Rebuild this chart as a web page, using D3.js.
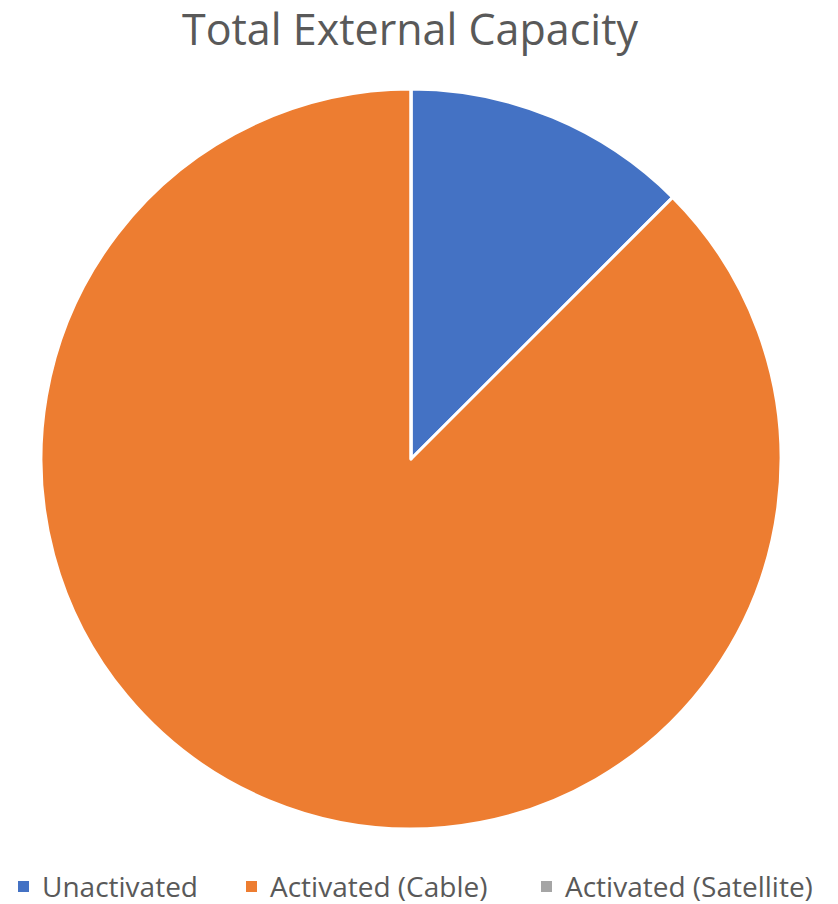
<!DOCTYPE html>
<html>
<head>
<meta charset="utf-8">
<script src="https://cdn.jsdelivr.net/npm/d3@7"></script>
<style>
  html, body { margin: 0; padding: 0; background: #fff; }
  svg { display: block; }
</style>
</head>
<body>
<svg id="chart" width="838" height="904"></svg>
<script>
// data
const categories = ["Unactivated", "Activated (Cable)", "Activated (Satellite)"];
const values = [12.5, 87.5, 0];
const colors = ["#4472C4", "#ED7D31", "#A5A5A5"];
const title = "Total External Capacity";

const width = 838, height = 904;
const cx = 411, cy = 459, radius = 370;

const svg = d3.select("#chart");
const font = "'Open Sans', 'Liberation Sans', sans-serif";

// title
svg.append("text")
    .attr("x", 410)
    .attr("y", 45)
    .attr("text-anchor", "middle")
    .attr("font-family", font)
    .attr("font-size", 43)
    .attr("fill", "#595959")
    .text(title);

const pie = d3.pie().sort(null).value(d => d);
const arc = d3.arc().innerRadius(0).outerRadius(radius);
const color = d3.scaleOrdinal().domain(categories).range(colors);

const g = svg.append("g").attr("transform", `translate(${cx},${cy})`);
g.selectAll("path")
    .data(pie(values))
    .join("path")
    .attr("d", arc)
    .attr("fill", (d, i) => color(categories[i]))
    .attr("stroke", "#fff")
    .attr("stroke-width", 3)
    .attr("stroke-linejoin", "round");

// legend
const legendX = [18, 246, 541];
const legend = svg.append("g").attr("font-family", font).attr("font-size", 28).attr("fill", "#595959");
const item = legend.selectAll("g")
    .data(categories)
    .join("g")
    .attr("transform", (d, i) => `translate(${legendX[i]},887)`);
item.append("rect")
    .attr("x", 0).attr("y", -6)
    .attr("width", 11).attr("height", 11)
    .attr("fill", d => color(d));
item.append("text")
    .attr("x", 24)
    .attr("y", 10)
    .text(d => d);
</script>
</body>
</html>
